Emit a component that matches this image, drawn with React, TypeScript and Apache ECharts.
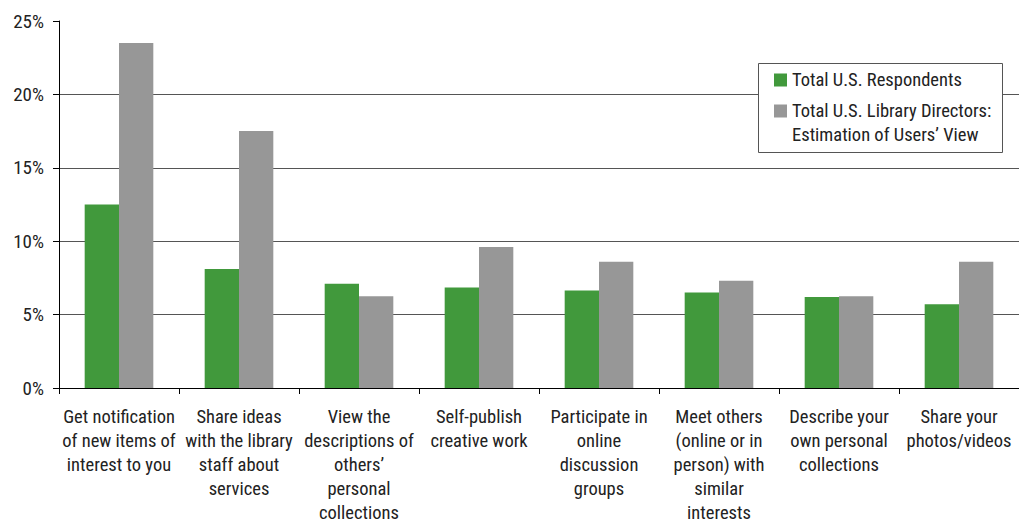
import React, { useEffect, useRef } from "react";
import * as echarts from "echarts";

const categories = [
  "Get notification\nof new items of\ninterest to you",
  "Share ideas\nwith the library\nstaff about\nservices",
  "View the\ndescriptions of\nothers’\npersonal\ncollections",
  "Self-publish\ncreative work",
  "Participate in\nonline\ndiscussion\ngroups",
  "Meet others\n(online or in\nperson) with\nsimilar\ninterests",
  "Describe your\nown personal\ncollections",
  "Share your\nphotos/videos",
];

const respondents = [12.5, 8.1, 7.1, 6.85, 6.65, 6.5, 6.2, 5.7];
const directors = [23.5, 17.5, 6.25, 9.6, 8.6, 7.3, 6.25, 8.6];

const seriesNames = [
  "Total U.S. Respondents",
  "Total U.S. Library Directors: Estimation of Users’ View",
];

const yTicks = [0, 5, 10, 15, 20, 25];

const FONT = "'Liberation Sans Narrow', 'Roboto Condensed', 'DejaVu Sans Condensed', 'Liberation Sans', sans-serif";

export default function App() {
  const ref = useRef<HTMLDivElement>(null);
  useEffect(() => {
    if (!ref.current) return;
    const chart = echarts.init(ref.current, undefined, { renderer: "svg" });
    chart.setOption({
      animation: false,
      backgroundColor: "#ffffff",
      textStyle: { fontFamily: FONT, color: "#222" },
      grid: { left: 59, top: 21, width: 965, height: 369 },
      graphic: [
        {
          type: "rect",
          z: 50,
          shape: { x: 758.5, y: 63.5, width: 244, height: 89 },
          style: { fill: "#ffffff", stroke: "#555555", lineWidth: 1 },
        },
      ],
      legend: [
        {
          data: [{ name: seriesNames[0], icon: "rect" }],
          left: 774,
          top: 68,
          padding: 0,
          itemWidth: 13,
          itemHeight: 13,
          z: 60,
          textStyle: { fontFamily: FONT, fontSize: 18.5, color: "#222", lineHeight: 24 },
          selectedMode: false,
        },
        {
          data: [
            {
              name: seriesNames[1],
              icon: "path://M0,0H13V13H0Z M0,36.95H0.05V37H0Z",
            },
          ],
          left: 774,
          top: 99,
          padding: 0,
          itemWidth: 13,
          itemHeight: 37,
          z: 60,
          formatter: () => "Total U.S. Library Directors:\nEstimation of Users’ View",
          textStyle: { fontFamily: FONT, fontSize: 18.5, color: "#222", lineHeight: 24 },
          selectedMode: false,
        },
      ],
      xAxis: {
        type: "category",
        data: categories,
        boundaryGap: true,
        axisLine: { lineStyle: { color: "#000", width: 1 } },
        axisTick: { show: true, length: 6, lineStyle: { color: "#000" } },
        axisLabel: {
          interval: 0,
          margin: 17,
          fontFamily: FONT,
          fontSize: 18.5,
          lineHeight: 24,
          color: "#222",
          align: "center",
        },
      },
      yAxis: {
        type: "value",
        min: 0,
        max: 25,
        interval: 5,
        axisLine: { show: true, lineStyle: { color: "#000", width: 1 } },
        axisTick: { show: true, length: 6, lineStyle: { color: "#000" } },
        axisLabel: {
          margin: 15,
          fontFamily: FONT,
          fontSize: 19,
          color: "#222",
          formatter: (v: number) => (yTicks.includes(v) ? v + "%" : ""),
        },
        splitLine: {
          show: true,
          showMaxLine: false,
          lineStyle: { color: "#555", width: 1 },
        },
      },
      series: [
        {
          name: seriesNames[0],
          type: "bar",
          data: respondents,
          barWidth: "28.6%",
          barGap: "0%",
          itemStyle: { color: "#41993c" },
        },
        {
          name: seriesNames[1],
          type: "bar",
          data: directors,
          barWidth: "28.6%",
          barGap: "0%",
          itemStyle: { color: "#979797" },
        },
      ],
    });
    return () => chart.dispose();
  }, []);
  return <div ref={ref} style={{ width: 1019, height: 525, position: "absolute", left: 0, top: 0 }} />;
}
